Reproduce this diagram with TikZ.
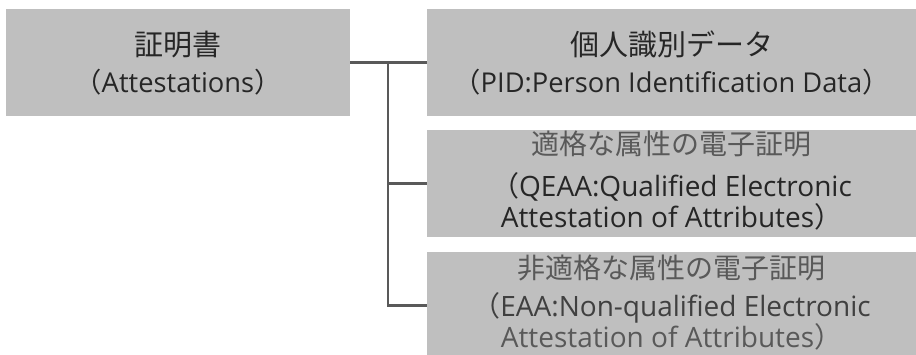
\documentclass[tikz,border=0pt]{standalone}
\usepackage{fontspec}
\setmainfont{Open Sans}
\newfontfamily\jp{Noto Sans CJK JP}
\definecolor{boxgray}{HTML}{BFBFBF}
\definecolor{linegray}{HTML}{595959}
\definecolor{txtdark}{HTML}{262626}
\definecolor{txtmid}{HTML}{595959}
\definecolor{txtmid2}{HTML}{404040}
\newcommand\jpTop{\jp\fontsize{29}{29}\selectfont}
\newcommand\latTop{\fontsize{27.3}{27.3}\selectfont}
\newcommand\jpLow{\jp\fontsize{28}{28}\selectfont}
\newcommand\latLow{\fontsize{28}{28}\selectfont}
\tikzset{
  box/.style={fill=boxgray, draw=none, inner sep=0pt, minimum height=107pt},
  leftbox/.style={box, minimum width=344pt},
  rightbox/.style={box, minimum width=489pt},
  conn/.style={draw=linegray, line width=2.5pt},
  txt/.style={anchor=base, inner sep=0pt},
}
\begin{document}
\begin{tikzpicture}[x=1pt,y=-1pt]
\useasboundingbox (0,0) rectangle (916,354);
\clip (0,0) rectangle (916,354);
% boxes
\node[leftbox]  (b1) at (178,62.5) {};
\node[rightbox] (b2) at (671.5,62.5) {};
\node[rightbox] (b3) at (671.5,183.5) {};
\node[rightbox] (b4) at (671.5,305.5) {};
% connectors
\coordinate (j) at (388,62.5);
\draw[conn] (b1.east) -- (b2.west);
\draw[conn] (j) |- (b3.west);
\draw[conn] (j) |- (b4.west);
% texts
\node[txt, font=\jpTop, text=txtdark] (t1a) at (178,55) {証明書};
\node[txt, font=\latTop, text=txtdark] (t1b) at (178,92) {{\jp （}Attestations{\jp ）}};
\node[txt, font=\jpTop, text=txtdark] (t2a) at (671.5,55) {個人識別データ};
\node[txt, font=\latTop, text=txtdark] (t2b) at (671.5,92) {{\jp （}PID:Person Identification Data{\jp ）}};
\node[txt, font=\jpLow, text=txtmid] (t3a) at (671.5,154) {適格な属性の電子証明};
\node[txt, font=\latLow, text=txtdark] (t3b) at (671.5,196) {{\jp （}QEAA:Qualified Electronic};
\node[txt, font=\latLow, text=txtdark] (t3c) at (671.5,227) {Attestation of Attributes{\jp ）}};
\node[txt, font=\jpLow, text=txtmid] (t4a) at (671.5,278) {非適格な属性の電子証明};
\node[txt, font=\latLow, text=txtmid2] (t4b) at (671.5,316) {{\jp （}EAA:Non-qualified Electronic};
\node[txt, font=\latLow, text=txtmid] (t4c) at (671.5,347) {Attestation of Attributes{\jp ）}};
\end{tikzpicture}
\end{document}
